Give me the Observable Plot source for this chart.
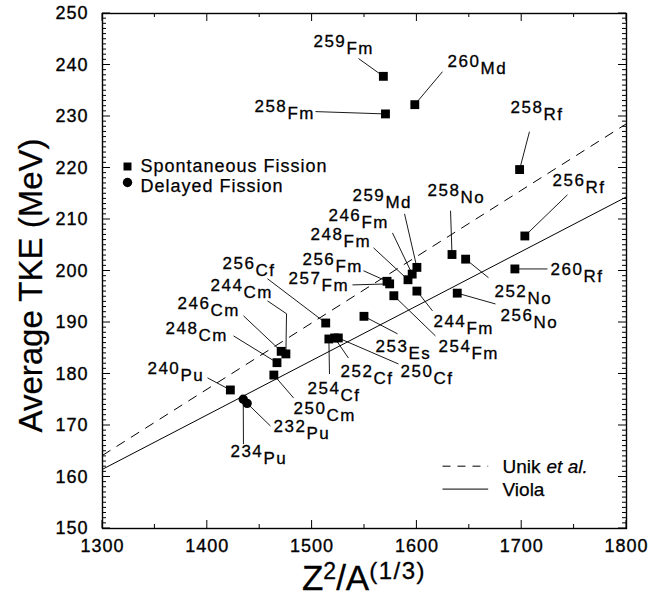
<!DOCTYPE html>
<html>
<head>
<meta charset="utf-8">
<script src="https://cdn.jsdelivr.net/npm/d3@7"></script>
<script src="https://cdn.jsdelivr.net/npm/@observablehq/plot@0.6"></script>
<style>
  html, body { margin: 0; padding: 0; background: #fff; }
  #chart svg { display: block; }
</style>
</head>
<body>
<div id="chart"></div>
<script>
// ---------- data values ----------
const xTickValues = [1300, 1400, 1500, 1600, 1700, 1800];
const xMinorTicks = [1350, 1450, 1550, 1650, 1750];
const yTickValues = [150, 160, 170, 180, 190, 200, 210, 220, 230, 240, 250];
const yMinorTicks = d3.range(150, 251, 1).filter(v => v % 10 !== 0);

// Spontaneous fission (squares)
const sfNuclide = ["259Fm","258Fm","260Md","258Rf","256Rf","260Rf","258No","252No","256No","244Fm","254Fm","259Md","246Fm","248Fm","256Fm","257Fm","253Es","256Cf","252Cf","250Cf","254Cf","244Cm","246Cm","248Cm","250Cm","240Pu"];
const sfZ2A    = [1568,1570,1598,1698,1703,1693.5,1633.5,1646.5,1638.5,1600,1578,1600,1595.5,1591.5,1571.5,1574,1549.5,1513,1521.5,1525,1516,1475,1470.5,1466.5,1463.5,1422];
const sfTKE    = [237.8,230.5,232.3,219.7,206.8,200.4,203.2,202.3,195.7,196.1,195.2,200.7,199.4,198.3,198.0,197.5,191.2,189.9,187.0,187.0,186.8,183.9,184.4,182.2,179.8,176.9];

// Delayed fission (circles)
const dfNuclide = ["234Pu","232Pu"];
const dfZ2A     = [1434.3,1438];
const dfTKE     = [175.1,174.3];

// Systematics lines (endpoints)
const unikZ2A  = [1300, 1800];
const unikTKE  = [164.2, 228.6];
const violaZ2A = [1300, 1800];
const violaTKE = [161.5, 214.4];

// ---------- annotation layout (data coordinates of label anchors / leader starts) ----------
const labelLayout = {
  "259Fm": {lx:1501.3, ly:242.2,  ax:1544.3, ay:241.25},
  "258Fm": {lx:1445,   ly:229.6,  ax:1503.2, ay:230.95},
  "260Md": {lx:1629.2, ly:238.3,  ax:1624.4, ay:238.7},
  "258Rf": {lx:1689.3, ly:229.4,  ax:1707.4, ay:227.05},
  "256Rf": {lx:1729.4, ly:215.2,  ax:1743.7, ay:214.8},
  "260Rf": {lx:1727.5, ly:197.9,  ax:1724.6, ay:200.4},
  "258No": {lx:1610.1, ly:213.25, ax:1632.1, ay:211.7},
  "252No": {lx:1674,   ly:193.6,  ax:1668.3, ay:198.7},
  "256No": {lx:1679.8, ly:188.95, ax:1675,   ay:193.6},
  "244Fm": {lx:1615.8, ly:187.8,  ax:1614.9, ay:192.26},
  "254Fm": {lx:1620.6, ly:182.9,  ax:1617.7, ay:187.4},
  "259Md": {lx:1538.5, ly:212.3,  ax:1588.2, ay:211.1},
  "246Fm": {lx:1515.6, ly:208.4,  ax:1576.7, ay:207.4},
  "248Fm": {lx:1498.5, ly:204.7,  ax:1558.6, ay:204.5},
  "256Fm": {lx:1490.8, ly:199.85, ax:1549,   ay:200.05},
  "257Fm": {lx:1477.5, ly:196.15, ax:1538.5, ay:197.3},
  "253Es": {lx:1560.5, ly:182.9,  ax:1581.5, ay:187.8},
  "256Cf": {lx:1414.5, ly:199.05, ax:1457.4, ay:198.5},
  "252Cf": {lx:1527.1, ly:178.1,  ax:1534.7, ay:183.1},
  "250Cf": {lx:1584.4, ly:178.1,  ax:1582.4, ay:181.95},
  "254Cf": {lx:1495.6, ly:174.8,  ax:1516.6, ay:180.0},
  "244Cm": {lx:1403.1, ly:194.8,  ax:1457.4, ay:194.2, bx:1475.6, by:191.7},
  "246Cm": {lx:1371.6, ly:191.3,  ax:1434.5, ay:191.3},
  "248Cm": {lx:1360.1, ly:186.4,  ax:1425,   ay:187.4},
  "250Cm": {lx:1482.3, ly:170.9,  ax:1482.3, ay:175.35},
  "240Pu": {lx:1342.9, ly:178.65, ax:1400.2, ay:179.25},
  "234Pu": {lx:1422.1, ly:162.5,  ax:1434.5, ay:166.4},
  "232Pu": {lx:1463.2, ly:167.4,  ax:1460.3, ay:169.9}
};
const legendLayout = {lineX1: 1624.4, lineX2: 1668, unikY: 162.1, violaY: 157.65, textX: 1681.7, unikTextY: 160.77, violaTextY: 156.3};

// ---------- build tables ----------
const sf = sfNuclide.map((n, i) => ({n, x: sfZ2A[i], y: sfTKE[i]}));
const df = dfNuclide.map((n, i) => ({n, x: dfZ2A[i], y: dfTKE[i]}));
const allPts = sf.concat(df);
const labels = allPts.map(p => {
  const L = labelLayout[p.n];
  return {mass: p.n.slice(0, 3), elem: p.n.slice(3), x: L.lx, y: L.ly};
});
const leaders = [];
allPts.forEach(p => {
  const L = labelLayout[p.n];
  if (L.bx !== undefined) {
    leaders.push({x1: L.ax, y1: L.ay, x2: L.bx, y2: L.by});
    leaders.push({x1: L.bx, y1: L.by, x2: p.x, y2: p.y});
  } else {
    leaders.push({x1: L.ax, y1: L.ay, x2: p.x, y2: p.y});
  }
});
const unik = unikZ2A.map((x, i) => ({x, y: unikTKE[i]}));
const viola = violaZ2A.map((x, i) => ({x, y: violaTKE[i]}));

const FONT = "'Liberation Sans', Arial, Helvetica, sans-serif";
const fmt = d => String(d);

const W = 657, H = 598, ML = 102, MR = 31, MT = 13, MB = 70;
const FW = W - ML - MR, FH = H - MT - MB;

const chart = Plot.plot({
  width: W,
  height: H,
  marginLeft: ML,
  marginRight: MR,
  marginTop: MT,
  marginBottom: MB,
  x: {domain: [1300, 1800]},
  y: {domain: [150, 250]},
  style: {fontFamily: FONT, fontSize: "18px", color: "black", background: "white", overflow: "visible"},
  marks: [
    Plot.axisX(xTickValues, {anchor: "bottom", tickSize: 0, tickPadding: 11, fontSize: 18, label: null, tickFormat: fmt}),
    Plot.axisY(yTickValues, {anchor: "left", tickSize: 0, tickPadding: 14, fontSize: 18, label: null, tickFormat: fmt}),
    Plot.frame({stroke: "black", strokeWidth: 1.4}),
    Plot.line(unik, {x: "x", y: "y", stroke: "black", strokeWidth: 1, strokeDasharray: "9,8"}),
    Plot.line(viola, {x: "x", y: "y", stroke: "black", strokeWidth: 1}),
    Plot.link(leaders, {x1: "x1", y1: "y1", x2: "x2", y2: "y2", stroke: "black", strokeWidth: 0.9}),
    Plot.dot(sf, {x: "x", y: "y", symbol: "square", r: 5, fill: "black", stroke: "none"}),
    Plot.dot(df, {x: "x", y: "y", symbol: "circle", r: 4.7, fill: "black", stroke: "none"}),
    Plot.text(labels, {x: "x", y: "y", text: "mass", dy: -7, textAnchor: "start", lineAnchor: "bottom", fontSize: 17, fill: "black"}),
    Plot.text(labels, {x: "x", y: "y", text: "elem", dx: 33, textAnchor: "start", lineAnchor: "bottom", fontSize: 17, fill: "black"}),
    // symbol legend
    Plot.dot([0], {frameAnchor: "top-left", dx: 25, dy: 153, symbol: "square", r: 4.5, fill: "black", stroke: "none"}),
    Plot.dot([0], {frameAnchor: "top-left", dx: 25, dy: 169, symbol: "circle", r: 4.7, fill: "black", stroke: "none"}),
    Plot.text(["Spontaneous Fission"], {frameAnchor: "top-left", dx: 38, dy: 158, textAnchor: "start", lineAnchor: "bottom", fontSize: 18, fill: "black"}),
    Plot.text(["Delayed Fission"], {frameAnchor: "top-left", dx: 38, dy: 178, textAnchor: "start", lineAnchor: "bottom", fontSize: 18, fill: "black"}),
    // line legend
    Plot.link([0], {x1: () => legendLayout.lineX1, x2: () => legendLayout.lineX2, y1: () => legendLayout.unikY, y2: () => legendLayout.unikY, stroke: "black", strokeWidth: 1, strokeDasharray: "8,7"}),
    Plot.link([0], {x1: () => legendLayout.lineX1, x2: () => legendLayout.lineX2, y1: () => legendLayout.violaY, y2: () => legendLayout.violaY, stroke: "black", strokeWidth: 1}),
    Plot.text(["Unik"], {x: () => legendLayout.textX, y: () => legendLayout.unikTextY, textAnchor: "start", lineAnchor: "bottom", fontSize: 19, fill: "black"}),
    Plot.text(["et al."], {x: () => legendLayout.textX, y: () => legendLayout.unikTextY, dx: 44, textAnchor: "start", lineAnchor: "bottom", fontSize: 19, fontStyle: "italic", fill: "black"}),
    Plot.text(["Viola"], {x: () => legendLayout.textX, y: () => legendLayout.violaTextY, textAnchor: "start", lineAnchor: "bottom", fontSize: 19, fill: "black"}),
    // y axis title
    Plot.text(["Average TKE (MeV)"], {frameAnchor: "left", dx: -61, dy: 14.5, rotate: -90, textAnchor: "middle", lineAnchor: "bottom", fontSize: 33, fill: "black"})
  ]
});

document.getElementById("chart").appendChild(chart);

const svg = d3.select(chart);
const xs = chart.scale("x"), ys = chart.scale("y");

// inward tick marks on all four sides, positioned through Plot's scales
const tg = svg.append("g").attr("stroke", "black").attr("stroke-width", 1).attr("aria-label", "frame ticks");
const fTop = MT, fBottom = MT + FH, fLeft = ML, fRight = ML + FW;
[[xTickValues, 8], [xMinorTicks, 4]].forEach(([vals, len]) => vals.forEach(v => {
  const px = xs.apply(v);
  tg.append("line").attr("x1", px).attr("x2", px).attr("y1", fBottom).attr("y2", fBottom - len);
  tg.append("line").attr("x1", px).attr("x2", px).attr("y1", fTop).attr("y2", fTop + len);
}));
[[yTickValues, 8], [yMinorTicks, 4]].forEach(([vals, len]) => vals.forEach(v => {
  const py = ys.apply(v);
  tg.append("line").attr("y1", py).attr("y2", py).attr("x1", fLeft).attr("x2", fLeft + len);
  tg.append("line").attr("y1", py).attr("y2", py).attr("x1", fRight).attr("x2", fRight - len);
}));

// tick label styling (slightly heavy, as in the scanned original)
svg.selectAll('g[aria-label="x-axis tick label"], g[aria-label="y-axis tick label"]')
  .attr("font-size", 18).style("font-size", "18px").style("letter-spacing", "1px")
  .attr("stroke", "black").attr("stroke-width", 0.35);
// nuclide label spacing (first two text marks are the mass numbers and element symbols)
const textGroups = svg.selectAll('g[aria-label="text"]').nodes();
[0, 1].forEach(i => {
  if (textGroups[i]) d3.select(textGroups[i]).style("letter-spacing", "1.5px").attr("stroke", "black").attr("stroke-width", 0.3);
});
textGroups.slice(2).forEach(n => d3.select(n).attr("stroke", "black").attr("stroke-width", 0.25));
// legend texts (marks 2 and 3): widen slightly to match the original's tracking
[2, 3].forEach(i => { if (textGroups[i]) d3.select(textGroups[i]).style("letter-spacing", "1px"); });

// x axis title with superscripts
const xt = svg.append("text")
  .attr("x", 364).attr("y", 590)
  .attr("text-anchor", "middle")
  .attr("fill", "black")
  .attr("stroke", "black").attr("stroke-width", 0.3)
  .style("font-family", FONT)
  .style("font-size", "35px");
xt.append("tspan").text("Z");
xt.append("tspan").attr("dy", -11.5).style("font-size", "23px").text("2");
xt.append("tspan").attr("dy", 11.5).text("/A");
xt.append("tspan").attr("dy", -11.5).style("font-size", "24px").style("letter-spacing", "1.5px").text("(1/3)");
</script>
</body>
</html>
